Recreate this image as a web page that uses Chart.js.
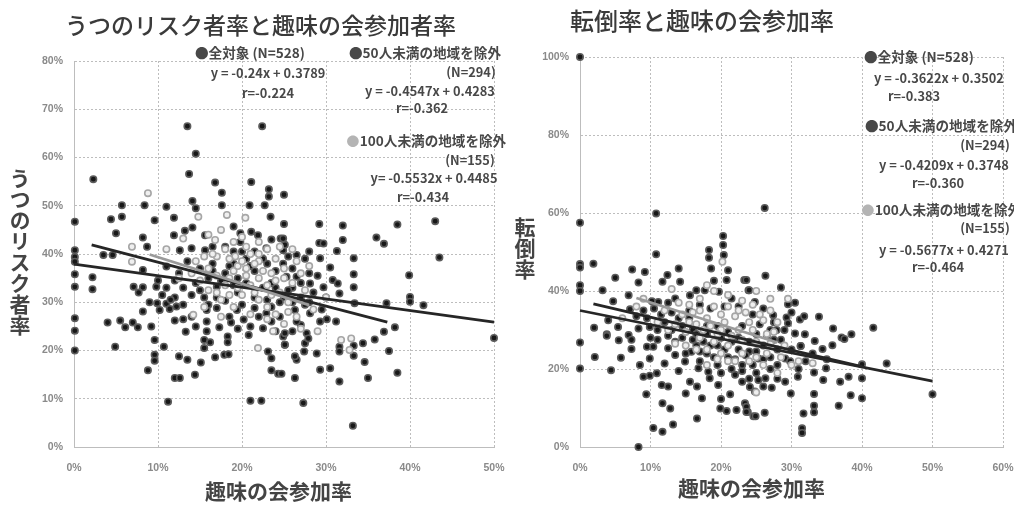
<!DOCTYPE html>
<html lang="ja">
<head>
<meta charset="utf-8">
<script src="https://cdn.jsdelivr.net/npm/chart.js@4"></script>
<style>
  html, body { margin: 0; padding: 0; background: #fff; }
  #page { position: relative; width: 1014px; height: 506px; overflow: hidden; filter: blur(0.55px);
          font-family: "Noto Sans CJK JP", sans-serif; color: #333; }
  canvas { position: absolute; top: 0; }
  .txt { position: absolute; white-space: nowrap; line-height: 1; }
  .title { font-size: 23px; font-weight: 500; color: #3a3a3a; }
  .title.wide { font-size: 24px; }
  .axis { font-size: 21px; font-weight: 700; color: #444; }
  .vert { writing-mode: vertical-rl; }
  .note { font-size: 12.8px; font-weight: 700; color: #484848; transform: translate(-50%, -50%); }
  .note.jp { font-size: 13.6px; }
  .note.mark { color: #b4b4b4; }
</style>
</head>
<body>
<div id="page">
  <canvas id="depressChart" width="510" height="506" style="left:0"></canvas>
  <canvas id="fallChart" width="504" height="506" style="left:510px"></canvas>
  <div id="labels"></div>
</div>
<script>
// x = 趣味の会参加率 (%), y = outcome (%)
const depressAll = [
  [2.3,55.5],[13.7,56.6],[16.8,54.8],[17.6,52.7],[21.1,54.9],[23.2,53.4],[23.2,51.9],[25,52.3],
  [5.7,50.1],[8.4,50.1],[11,49.8],[14.1,51],[14.5,49.5],[17.6,50.1],[20.9,50.1],[22.7,50.1],
  [0.1,46.7],[4.4,47.2],[5.7,47.7],[9.6,47],[11.9,47.5],[23.4,47.7],[25,46.2],[5,44.3],[8.2,43.4],[8.7,41.5],
  [0.1,40.8],[0.1,39.4],[0.1,38.4],[3.5,39.8],[4.6,39.8],[0.1,35.8],[0.1,33.2],[2.2,35.2],[2.2,32.7],
  [8.2,36.7],[7.1,33.2],[8.2,33.1],[7.7,32],[0.1,26.7],[0.1,24.1],[0.1,20],[4,25.8],[5.5,26.2],[6.1,24.8],
  [7,25.8],[7.6,24.8],[9.2,25],[4.9,20.8],[9.6,22.2],[10.7,20.8],[9.6,19.1],[9.6,17.9],[8.8,15.9],[12.5,18.8],
  [13.5,18.1],[15.1,17.5],[16.8,18.6],[17.9,19.1],[18.4,19.2],[12,14.3],[12.6,14.3],[14.4,15],[11.2,9.4],
  [21,9.6],[22.3,9.6],[23.5,15.9],[24.3,15.2],[23.1,19.8],[23.5,18.4],[13.5,66.5],[22.4,66.5],[14.5,60.8],
  [29.2,46.2],[32,45.9],[38.5,46.1],[43,46.8],[29.2,42.3],[29.7,42.2],[32,42.9],[36,43.4],[36.9,42.1],
  [31.3,40.6],[33.3,39.1],[43.5,39.3],[33.3,35.8],[39.9,35.6],[33.3,33.1],[40,31.1],[40,30.1],[37.2,29.8],
  [41.6,29.4],[33.4,29.8],[38.2,24.8],[36.9,23.9],[35.8,22.3],[34.4,21.5],[33.3,21],[33.3,18.9],[37.5,19.9],
  [34.6,17.6],[29.3,16],[30.5,16.3],[26.3,14.3],[31.6,13.6],[35,14.3],[38.5,15.4],[27.3,9.1],[33.2,4.4],[50,22.6],
  [29.3,26],[30.1,26.5],[31.2,26],[31.6,20.8],[31.6,19.8],[24.7,15.2]
];
const depress50 = [
  [19,45.7],[19.8,44.3],[21.1,44.6],[21.9,43.9],[19.8,42.5],[24.6,43.2],[24.9,40.8],[22.9,41.2],[11.9,43.9],
  [13.2,44.8],[14.1,45.5],[15.6,43.9],[12.6,40.8],[14,41.2],[15.6,40.8],[9.8,33.2],[11,37.4],[12,26.2],[13.3,23.9],
  [14.5,25],[15.8,26],[15.8,24],[15.5,22.2],[16.2,21.7],[15.5,20.5],[17.3,24.8],[18.7,25.8],[18.3,22.9],[18.3,21.7],
  [20.8,23.2],[22.5,24.6],[20.2,26.4],[24.9,22.9],[25.1,21.2],[8.2,28.1],[9,30],[10.2,28.4],[9.9,29.8],[11,29.7],
  [12.2,29.1],[11.4,28.6],[15.8,28.4],[17,28.8],[19.4,28.4],[22.9,27.7],[24.5,27],[26.5,39.8],[29.3,39.1],[30.5,37.2],
  [25.1,41.9],[24.9,43.2],[26.5,35.3],[28.1,33.9],[30.8,34.6],[31.4,33.9],[31.6,31.8],[29.7,33.1],[24.9,38],[25.3,35.3],
  [26.3,28.4],[28.1,27.7],[27.5,21.5],[27.4,19.8],[25.1,23.6],[25.1,21.2],[26.5,18.1],[28.9,19.4],[26.3,18.8],
  [27.7,23.6],[27,25.3],[27.9,22.5],[15,37],[16.5,38],[18,36],[13,33],[14,31.5],[15.5,31],[17,33.2],[18,30.3],
  [19.5,32],[20.5,34],[21.5,36.5],[22.5,33],[23,30.5],[24,33],[25,31],[26,33],[27,31],[28,30],[20,29.5],[21.5,28.8],
  [23.5,29],[16,35],[19,38],[20.5,39],[21.5,40.5],[23,38],[26,37],[28,36],[27.5,39],[10.5,31.5],[12,31],[13,29.5],
  [10,34.5],[11,33],[12,34.5],[12.5,36],[13.5,38.5],[14.5,34],[15,32.5],[16,29.5],[16.5,36.5],[17.5,34.5],[18.5,37.5],
  [19,33.5],[19.5,35],[20,40.5],[21,37.5],[21.5,31],[22,27],[23.5,34],[24,36.5],[24.5,30],[25.5,32.5],[26,30],[26.5,26],
  [27,34],[27.5,29.5],[28.5,32],[29,35.5],[29.5,28.5],[30,31],[18.5,27],[19.5,24.5],[21,25],[23.5,26],[24,24],[26,24],
  [14,27],[13,26.5],[17,31],[11.5,30.5],[22.5,39],[23.5,43],[25.5,39.5],[28,40.5],[18,41.5],[19,40.5],[16.5,41.5]
];
const depress100 = [
  [8.8,52.6],[18.2,48.1],[20.4,47.5],[14.8,47.7],[13,43.2],[6.9,41.5],[6.9,38.4],[16.8,42.9],[14.2,27.4],[21.9,20.5],
  [23.7,24],[17.5,27],[31.8,22.2],[32.8,20.1],[33,22.5],[18,41],[19.2,39.5],[20.5,41.5],[22,40],[17,39.5],[23.5,36],
  [25,37],[19,36.5],[20.5,37],[22,35],[24,34.5],[18,33.5],[16,32.5],[20,31.5],[21.5,32],[23.5,31.5],[25.5,30],[27.5,32.5],
  [15.5,29],[17.5,30.5],[19,29],[21,27.5],[23,26.5],[25,25.5],[27,24.5],[29,24],[26.5,27],[28.5,28.5],[14,36],[15.5,39.5],
  [12.5,35],[22,38.5],[24,39],[26,41],[28,37.5],[30,31],[11,41],[17.5,45],[20,43.5],
  [16,37],[17,35.5],[18.5,35],[19.5,37.5],[20.5,35.5],[21,33.5],[21.5,38],[22.5,36.5],[23,33.5],[24.5,32],[25,35],[26,34],
  [26.5,38.5],[27,36],[15,34.5],[17,32],[18.5,31.5],[19.5,33],[22,30.5],[23,29],[24,27.5],[25.5,28],[20,38.5],[18.5,39],
  [21,40],[23,41],[24.5,41.5],[16.5,40],[14.5,38.5],[16,44],[19,42.5],[22,42.5]
];
const fallAll = [
  [0,100],[10.8,59.9],[26.2,61.3],[0,57.5],[20.3,51.8],[18.3,48.5],[20.3,54.1],[18.3,50.5],[20.4,49.2],[10.8,49.4],
  [0,46.9],[0,46],[1.9,47],[5,43.4],[0,41.5],[0,40],[3.2,40.2],[7.4,45.5],[9.2,44.9],[8.3,42.2],[12.4,44.1],
  [11.7,42.4],[14,45.8],[14.2,42.4],[18.6,45.8],[21,45.3],[19,42.6],[20.8,42.8],[23.3,42.8],[23.9,40.2],[26.3,43.9],[28.5,40.9],
  [4.7,37.4],[2,30.6],[3.8,28.9],[5.4,30.8],[4,32.5],[0,26.8],[2.1,23.1],[0,20.1],[4.4,19.7],[5.8,22.9],[5.5,27.4],
  [7.3,25.1],[3.8,28.5],[8.5,21],[9,18],[9.9,18.3],[10.9,18.9],[11.6,15.9],[12.5,15.5],[9.4,13.5],[11.7,11.2],[12.8,9.9],
  [10.4,4.9],[11.7,3.9],[13.2,5.8],[8.3,0],[15.6,16.7],[16.6,15.5],[15,13.7],[17.3,12.5],[16.6,7.3],[20,12.3],[21.3,13.5],
  [19.9,9.9],[20.8,9.2],[22.2,9.5],[23.4,11.2],[23.8,9],[24.6,7.9],[35.9,30.4],[41.6,30.6],[38.5,28.9],[37.1,28.1],
  [33.9,33.4],[40,21.2],[43.5,21.4],[34.9,20.2],[33.2,19.1],[34.5,17.2],[36.9,16.7],[38.1,18],[40,17.6],[29.9,13.7],
  [33.2,13.6],[38.4,13.3],[40,12.5],[36.7,10.6],[33.2,10.6],[33.2,8.9],[31.7,8.6],[31.5,4.8],[31.5,3.6],[50,13.5],[26.2,8.8],[24.9,7.9],
  [23.6,10.3],[23.6,9],[25.3,17.2],[24.8,14.2],[27.2,15.2],[35.8,26.1],[34.4,25.1],[37.5,27.7],[33.3,27.2],[31.3,25.9]
];
const fall50 = [
  [6.9,38.9],[10.2,37.4],[11.1,37.2],[13.5,38.1],[15.6,38.9],[16.5,40.2],[17.7,40.2],[19.7,39.8],[21.5,38.1],[6.9,28.7],
  [8.3,30.4],[7.1,35.3],[9.9,30.8],[7.3,27.5],[9.5,25.7],[10.4,25.7],[9.9,22.7],[12.5,25.3],[12,21.4],[13.5,23.6],[14.9,21.9],
  [15.8,24.4],[16.8,20.2],[18.2,19.3],[19.6,15.9],[18.4,17.6],[23,16.7],[24.1,15.4],[24,40.2],[23.6,42.8],[29.5,36.6],
  [30.5,37],[29.3,33.2],[29.5,31.7],[31.2,32.7],[31.8,33.5],[30.5,29.1],[31.9,28.9],[27.4,33.8],[24.8,37.2],[27,30],[27.9,30],
  [31.3,25.9],[30.9,18],[29.1,16.7],[26.3,17.6],[25.3,22.7],[29.1,22.7],[29.8,22],[14,33],[15.5,35],[17,36.5],[18.5,35.5],
  [20.5,36],[22.5,36],[24.5,34],[26,35.5],[13,30],[14.5,28],[16,30],[18,29],[19.5,31],[21,29.5],[23,31],[25,29],[27.5,27.5],
  [11,27.5],[12.5,28.5],[16.5,26],[18,24],[19.5,26],[21,23],[22.5,25],[24,24.5],[26,26],[28,25],[14,19.5],[17,22],[19.5,21],
  [21.5,20],[23,19.5],[25,19],[27,20],[9.5,33],[11.5,34],[10.5,35.5],[12.5,37],
  [8,33.5],[9,35],[10,28],[11,30],[12,32],[13,34.5],[13.5,27],[14.5,31],[15,24],[15.5,33],[16,27.5],[16.5,29],[17,24.5],
  [17.5,27],[18,31],[18.5,26],[19,23],[20,28],[20,19],[20.5,25],[21.5,27],[22,22.5],[22.5,28],[23,21],[23.5,23.5],[24,27],
  [24.5,21],[25,24.5],[25.5,31.5],[26,22.5],[26.5,28.5],[27,23],[27.5,32],[28,21],[28.5,27.5],[29,30],[30,25],[30,34.5],
  [32,22],[33,24],[35,22.5],[31,20],[22,18.5],[24,17.5],[26,15.5],[28,17.5]
];
const fall100 = [
  [20.2,47.5],[18,41.5],[13,40.5],[15.5,36.5],[17,38],[19,40],[21,39],[23,37.5],[25,40],[27,38],[29.5,38],
  [12,35],[14,37],[16,34.5],[18,33],[20,34],[22,33.5],[24,32],[26,32.5],[28,32],[16.5,31.5],[18.5,31],[20.5,32],[22.5,30],
  [24.5,30],[13.5,26.5],[15,26],[17,28],[19,27],[21,26],[23,27.5],[25,27],[27,26.5],[29,26],[31,22],[33,21.5],[30,21],
  [18,21],[20,24],[22,22],[24,22],[26,21],[28,19],[25,14],[11,32],[9,38],[8,36],[6,33],[21,36],[27,35],
  [14.5,34],[15.5,32],[17,35],[19,36],[20,30],[21.5,28.5],[22.5,35],[23.5,34.5],[24.5,36.5],[25.5,34],[26.5,29],[27.5,29.5],
  [15,29.5],[16.5,25],[18,25],[19.5,22.5],[21,22],[23,24],[25,23],[26.5,24],[28.5,23],[12.5,30],[13.5,31.5],[17.5,30],[19.5,29]
];
const yTicksDepress = [0,10,20,30,40,50,60,70,80];
const yTicksFall = [0,20,40,60,80,100];

// trend line ends, x then y
const depressLineAll = [[0,37.9],[50,25.9]];
const depressLine50 = [[2.1,41.9],[37.3,25.9]];
const depressLine100 = [[9,39.9],[28,29.4]];
const fallLineAll = [[0,35],[50,16.9]];
const fallLine50 = [[1.9,36.7],[40,20.6]];
const fallLine100 = [[8,38.2],[28,26.8]];

const pts = a => a.map(p => ({ x: p[0], y: p[1] }));

function dots(data, gray) {
  return {
    data: pts(data), clip: false, order: gray ? 3 : (data === depressAll || data === fallAll ? 5 : 4),
    pointRadius: 3.2, pointBorderWidth: 1.6,
    pointBackgroundColor: gray ? '#efefef' : '#181818',
    pointBorderColor: gray ? '#a6a6a6' : '#5c5c5c'
  };
}
function trend(data, gray) {
  return {
    data: pts(data), showLine: true, pointRadius: 0, clip: false, order: gray ? 1 : 2,
    borderColor: gray ? '#9a9a9a' : '#262626', borderWidth: 2.8
  };
}

function makeChart(id, sets, lines, xMax, yMax, yStep, yWidth, padTop, padRight) {
  const tick = { color: '#8a8a8a', font: { size: 10.5, weight: 'bold', family: 'Liberation Sans' } };
  const grid = { color: '#bdbdbd', drawTicks: false, lineWidth: 1 };
  const border = { color: '#bdbdbd', dash: [2, 2] };
  return new Chart(document.getElementById(id), {
    type: 'scatter',
    data: { datasets: [dots(sets[0]), dots(sets[1]), dots(sets[2], true),
                       trend(lines[0]), trend(lines[1]), trend(lines[2], true)] },
    options: {
      responsive: false, animation: false, events: [],
      layout: { padding: { left: 0, top: padTop, right: padRight, bottom: 0 } },
      plugins: { legend: { display: false }, tooltip: { enabled: false } },
      scales: {
        x: {
          type: 'linear', min: 0, max: xMax, grid, border,
          ticks: Object.assign({ stepSize: 10, padding: 15, maxRotation: 0, callback: v => v + '%' }, tick),
          afterFit: s => { s.height = 59; s.paddingLeft = 0; s.paddingRight = 0; }
        },
        y: {
          type: 'linear', min: 0, max: yMax, grid, border,
          ticks: Object.assign({ stepSize: yStep, padding: 11, callback: v => v + '%' }, tick),
          afterFit: s => { s.width = yWidth; s.paddingTop = 0; s.paddingBottom = 0; }
        }
      }
    }
  });
}

makeChart('depressChart', [depressAll, depress50, depress100],
  [depressLineAll, depressLine50, depressLine100], 50, yTicksDepress[yTicksDepress.length - 1], 10, 74, 61, 16);
makeChart('fallChart', [fallAll, fall50, fall100],
  [fallLineAll, fallLine50, fallLine100], 60, yTicksFall[yTicksFall.length - 1], 20, 70, 57, 11);

// titles and the equation notes, [text, class, x, y]; notes are placed by their centre
const labelRows = [
  ['うつのリスク者率と趣味の会参加者率', 'title', 65, 13],
  ['転倒率と趣味の会参加率', 'title wide', 570, 8],
  ['趣味の会参加率', 'axis', 205, 480],
  ['趣味の会参加率', 'axis', 678, 477],
  ['うつのリスク者率', 'axis vert', 9, 168],
  ['転倒率', 'axis vert', 514, 217],
  ['●全対象 (N=528)', 'note jp', 250, 53],
  ['y = -0.24x + 0.3789', 'note', 268, 73],
  ['r=-0.224', 'note', 268, 93],
  ['●50人未満の地域を除外', 'note jp', 425, 53],
  ['(N=294)', 'note', 471, 72],
  ['y = -0.4547x + 0.4283', 'note', 430, 91],
  ['r=-0.362', 'note', 422, 108],
  ['●', 'note mark', 353, 141],
  ['100人未満の地域を除外', 'note jp', 433, 141],
  ['(N=155)', 'note', 470, 160],
  ['y= -0.5532x + 0.4485', 'note', 434, 178],
  ['r=-0.434', 'note', 423, 197],
  ['●全対象 (N=528)', 'note jp', 919, 57],
  ['y = -0.3622x + 0.3502', 'note', 939, 78],
  ['r=-0.383', 'note', 914, 96],
  ['●50人未満の地域を除外', 'note jp', 941, 126],
  ['(N=294)', 'note', 985, 145],
  ['y = -0.4209x + 0.3748', 'note', 944, 165],
  ['r=-0.360', 'note', 938, 183],
  ['●', 'note mark', 868, 210],
  ['100人未満の地域を除外', 'note jp', 948, 210],
  ['(N=155)', 'note', 985, 228],
  ['y = -0.5677x + 0.4271', 'note', 944, 250],
  ['r=-0.464', 'note', 938, 267]
];
const holder = document.getElementById('labels');
labelRows.forEach(r => {
  const el = document.createElement('div');
  el.className = 'txt ' + r[1];
  el.textContent = r[0];
  el.style.left = r[2] + 'px';
  el.style.top = r[3] + 'px';
  holder.appendChild(el);
});
</script>
</body>
</html>
